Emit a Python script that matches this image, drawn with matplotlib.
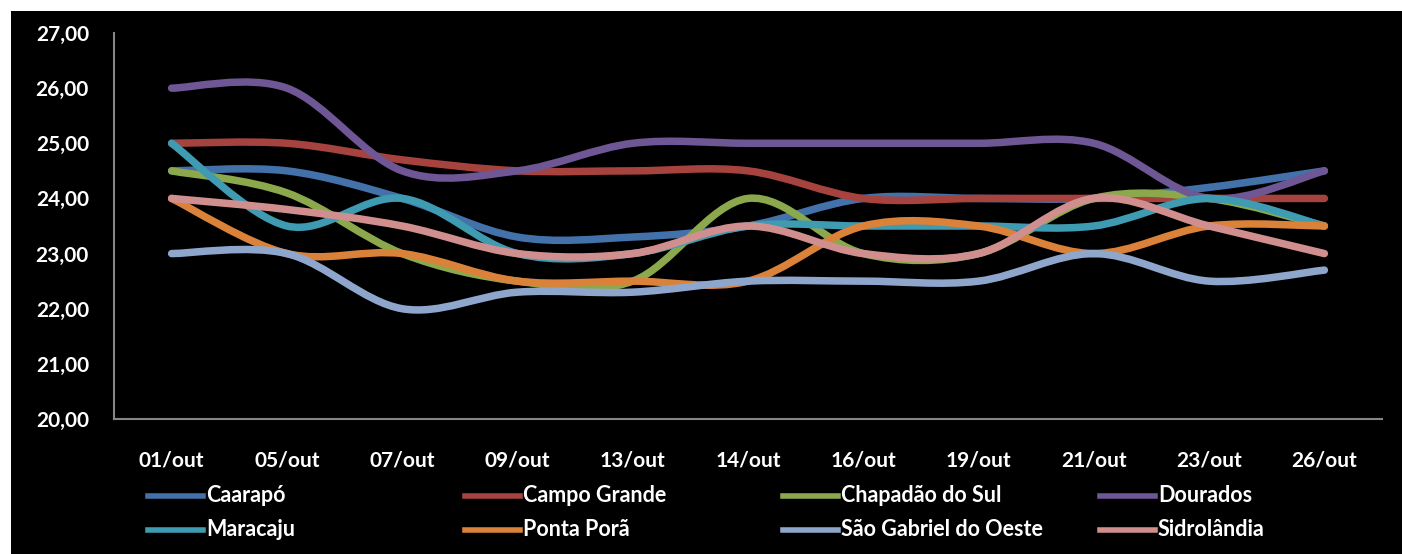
import matplotlib
matplotlib.use('Agg')
import matplotlib.pyplot as plt
from matplotlib.path import Path
from matplotlib.patches import PathPatch, Rectangle
from matplotlib.lines import Line2D
import numpy as np

# ── Data ──────────────────────────────────────────────────────────────────────
dates = ['01/out', '05/out', '07/out', '09/out', '13/out', '14/out',
         '16/out', '19/out', '21/out', '23/out', '26/out']

caarapo       = [24.5, 24.5, 24.0, 23.3, 23.3, 23.5, 24.0, 24.0, 24.0, 24.2, 24.5]
campo_grande  = [25.0, 25.0, 24.7, 24.5, 24.5, 24.5, 24.0, 24.0, 24.0, 24.0, 24.0]
chapadao      = [24.5, 24.1, 23.0, 22.5, 22.5, 24.0, 23.0, 23.0, 24.0, 24.0, 23.5]
dourados      = [26.0, 26.0, 24.5, 24.5, 25.0, 25.0, 25.0, 25.0, 25.0, 24.0, 24.5]
maracaju      = [25.0, 23.5, 24.0, 23.0, 23.0, 23.5, 23.5, 23.5, 23.5, 24.0, 23.5]
ponta_pora    = [24.0, 23.0, 23.0, 22.5, 22.5, 22.5, 23.5, 23.5, 23.0, 23.5, 23.5]
sao_gabriel   = [23.0, 23.0, 22.0, 22.3, 22.3, 22.5, 22.5, 22.5, 23.0, 22.5, 22.7]
sidrolandia   = [24.0, 23.8, 23.5, 23.0, 23.0, 23.5, 23.0, 23.0, 24.0, 23.5, 23.0]

names = ['Caarapó', 'Campo Grande', 'Chapadão do Sul', 'Dourados',
         'Maracaju', 'Ponta Porã', 'São Gabriel do Oeste', 'Sidrolândia']
series = [caarapo, campo_grande, chapadao, dourados,
          maracaju, ponta_pora, sao_gabriel, sidrolandia]
colors = ['#4371AA', '#A6433F', '#8BA94C', '#6F5694',
          '#3F9BB2', '#DB823A', '#8FA6CC', '#D08F8E']

y_ticks = [20, 21, 22, 23, 24, 25, 26, 27]

FONT = ['Lato', 'DejaVu Sans']
plt.rcParams['font.family'] = FONT


def smooth_path(xs, ys):
    """Excel-style smoothed line: cubic Bezier through every point."""
    pts = np.column_stack([xs, ys]).astype(float)
    n = len(pts)
    verts = [pts[0]]
    codes = [Path.MOVETO]
    for i in range(n - 1):
        p0 = pts[max(i - 1, 0)]
        p1 = pts[i]
        p2 = pts[i + 1]
        p3 = pts[min(i + 2, n - 1)]
        c1 = p1 + (p2 - p0) / 6.0
        c2 = p2 - (p3 - p1) / 6.0
        verts += [c1, c2, p2]
        codes += [Path.CURVE4] * 3
    return Path(verts, codes)


# ── Figure ────────────────────────────────────────────────────────────────────
W, H = 1402, 554
fig = plt.figure(figsize=(W / 100, H / 100), dpi=100, facecolor='white')
fig.add_artist(Rectangle((11 / W, 0), 1 - 11 / W, 1 - 11 / H,
                         transform=fig.transFigure, facecolor='black',
                         edgecolor='none', zorder=0))

ax = fig.add_axes([114 / W, 1 - 419 / H, (1382 - 114) / W, (419 - 33) / H])
ax.set_facecolor('black')
ax.patch.set_alpha(0)

x = np.arange(len(dates))
for vals, col in zip(series, colors):
    patch = PathPatch(smooth_path(x, vals), facecolor='none', edgecolor=col,
                      lw=5.4, capstyle='round', joinstyle='round')
    ax.add_patch(patch)

ax.set_xlim(-0.5, len(dates) - 0.5)
ax.set_ylim(20, 27)
ax.set_xticks(x)
ax.set_xticklabels(dates)
ax.set_yticks(y_ticks)
ax.set_yticklabels([f'{v:.2f}'.replace('.', ',') for v in y_ticks])
ax.tick_params(axis='both', length=0, colors='white', labelsize=15)
ax.tick_params(axis='x', pad=23)
ax.tick_params(axis='y', pad=18)
for lab in ax.get_xticklabels() + ax.get_yticklabels():
    lab.set_fontweight('bold')

for side in ['top', 'right']:
    ax.spines[side].set_visible(False)
for side in ['left', 'bottom']:
    ax.spines[side].set_color('#868686')
    ax.spines[side].set_linewidth(1.5)

# ── Legend (4 equal columns, 2 rows) ──────────────────────────────────────────
col_x = [148, 465, 783, 1100]
row_y = [496, 530]
for i, (name, col) in enumerate(zip(names, colors)):
    cx = col_x[i % 4]
    cy = row_y[i // 4]
    fig.add_artist(Line2D([cx / W, (cx + 55) / W], [1 - cy / H, 1 - cy / H],
                          transform=fig.transFigure, color=col, lw=4))
    fig.text((cx + 58) / W, 1 - cy / H, name, color='white', fontsize=15.5,
             fontweight='bold', va='center', ha='left')

fig.savefig('out.png', dpi=100, facecolor='white')
